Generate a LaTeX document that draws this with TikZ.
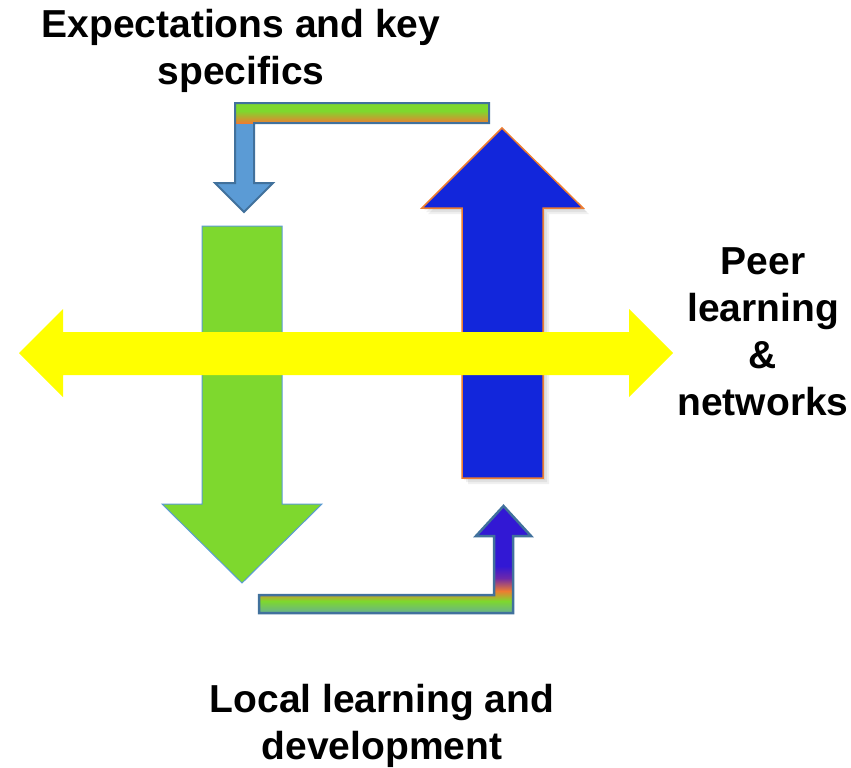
\documentclass[tikz,border=0pt]{standalone}
\usepackage{fontspec}
\setmainfont{Liberation Sans}
\begin{document}
\begin{tikzpicture}[x=1pt,y=-1pt,
  lbl/.style={font=\fontsize{39}{47}\selectfont\bfseries, align=center, inner sep=0pt, text=black},
  shadowstyle/.style={fill=black, fill opacity=0.06, draw=none}]
\definecolor{greenA}{RGB}{126,216,46}
\definecolor{blueA}{RGB}{18,38,219}
\definecolor{blueB}{RGB}{50,24,212}
\definecolor{lightblue}{RGB}{91,155,213}
\definecolor{steel}{RGB}{65,113,156}
\definecolor{orangeA}{RGB}{237,125,49}
\definecolor{purpleA}{RGB}{110,40,170}
\definecolor{tealA}{RGB}{100,170,160}
\definecolor{yellowA}{RGB}{255,255,0}
\useasboundingbox (0,0) rectangle (851,768);
\fill[white] (0,0) rectangle (851,768);

% green down arrow
\draw[fill=greenA, draw=lightblue, line width=1pt]
  (202,226) -- (282,226) -- (282,504) -- (322,504) -- (242,583) -- (162,504) -- (202,504) -- cycle;

% shadow for blue arrow
\foreach \d in {2,4,6}{
  \fill[shadowstyle, shift={(\d,\d)}]
    (462,478) -- (462,208) -- (422,208) -- (502,128) -- (583,208) -- (543,208) -- (543,478) -- cycle;
}
% blue up arrow
\draw[fill=blueA, draw=orangeA, line width=1.5pt, line join=miter]
  (462,478) -- (462,208) -- (422,208) -- (502,128) -- (583,208) -- (543,208) -- (543,478) -- cycle;

% yellow double arrow
\fill[yellowA]
  (19,353) -- (63,309) -- (63,332) -- (629,332) -- (629,309) -- (673,353) -- (629,397) -- (629,375) -- (63,375) -- (63,397) -- cycle;

% top bent arrow
\begin{scope}
  \clip (489,103) -- (235,103) -- (235,183) -- (215,183) -- (244,212) -- (273,183) -- (254,183) -- (254,123) -- (489,123) -- cycle;
  \fill[lightblue] (200,100) rectangle (500,215);
  \fill[greenA] (200,100) rectangle (500,111);
  \shade[top color=greenA, bottom color=orangeA] (200,111) rectangle (500,123);
\end{scope}
\draw[steel, line width=2pt, line join=miter]
  (489,103) -- (235,103) -- (235,183) -- (215,183) -- (244,212) -- (273,183) -- (254,183) -- (254,123) -- (489,123) -- cycle;

% bottom bent arrow
\begin{scope}
  \clip (259,595) -- (494,595) -- (494,536) -- (476,536) -- (503.5,506) -- (531,536) -- (513,536) -- (513,613) -- (259,613) -- cycle;
  \fill[blueB] (250,500) rectangle (540,566);
  \shade[top color=blueB, bottom color=purpleA] (250,566) rectangle (540,578);
  \shade[top color=purpleA, bottom color=orangeA] (250,578) rectangle (540,591);
  \shade[top color=orangeA, bottom color=greenA] (250,591) rectangle (540,601);
  \shade[top color=greenA, bottom color=tealA] (250,601) rectangle (540,615);
\end{scope}
\draw[steel, line width=2.5pt, line join=miter]
  (259,595) -- (494,595) -- (494,536) -- (476,536) -- (503.5,506) -- (531,536) -- (513,536) -- (513,613) -- (259,613) -- cycle;

% labels
\node[lbl] (top) at (241,51) {Expectations and key\\specifics};
\node[lbl] (right) at (763,332) {Peer\\learning\\\&\\networks};
\node[lbl] (bottom) at (382,726) {Local learning and\\development};
\end{tikzpicture}
\end{document}
